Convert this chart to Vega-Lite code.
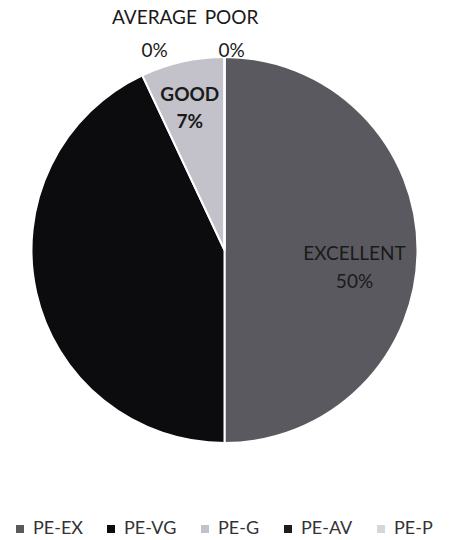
{
  "$schema": "https://vega.github.io/schema/vega-lite/v6.json",
  "width": 449,
  "height": 500,
  "padding": 0,
  "background": "white",
  "config": {
    "view": {"stroke": null},
    "font": "Lato",
    "text": {"font": "Lato", "lineBreak": "\n"}
  },
  "data": {
    "values": [
      {"cat": "PE-EX", "rank": 1, "value": 50, "label": "EXCELLENT\n50%"},
      {"cat": "PE-VG", "rank": 2, "value": 43, "label": "VERY GOOD\n43%"},
      {"cat": "PE-G", "rank": 3, "value": 7, "label": "GOOD\n7%"},
      {"cat": "PE-AV", "rank": 4, "value": 0, "label": "AVERAGE\n0%"},
      {"cat": "PE-P", "rank": 5, "value": 0, "label": "POOR\n0%"}
    ]
  },
  "encoding": {
    "theta": {"field": "value", "type": "quantitative", "stack": true},
    "order": {"field": "rank", "type": "quantitative"}
  },
  "layer": [
    {
      "mark": {"type": "arc", "radius": 193, "stroke": "white", "strokeWidth": 2},
      "encoding": {
        "color": {
          "field": "cat",
          "type": "nominal",
          "scale": {
            "domain": ["PE-EX", "PE-VG", "PE-G", "PE-AV", "PE-P"],
            "range": ["#5a5960", "#0c0c0e", "#c3c1ca", "#1c1c1e", "#d6d5d8"]
          },
          "legend": {
            "title": null,
            "orient": "bottom",
            "direction": "horizontal",
            "symbolType": "square",
            "symbolSize": 64,
            "symbolStrokeWidth": 0,
            "labelFontSize": 18,
            "labelColor": "#333333",
            "labelFont": "Lato",
            "columnPadding": 19,
            "offset": 9,
            "padding": 11
          }
        }
      }
    },
    {
      "mark": {"type": "text", "clip": true, "radius": 130, "dy": 4, "fontSize": 19, "lineHeight": 28, "color": "#1a1a1a"},
      "encoding": {
        "text": {"condition": {"test": "datum.cat === 'PE-EX'", "field": "label"}, "value": ""}
      }
    },
    {
      "mark": {"type": "text", "clip": true, "radius": 159, "fontSize": 19, "fontWeight": "bold", "lineHeight": 27, "color": "#1a1a1a"},
      "encoding": {
        "text": {"condition": {"test": "datum.cat === 'PE-G'", "field": "label"}, "value": ""}
      }
    },
    {
      "mark": {"type": "text", "clip": true, "radius": 232, "dx": -70, "fontSize": 19, "lineHeight": 33, "color": "#1a1a1a"},
      "encoding": {
        "text": {"condition": {"test": "datum.cat === 'PE-AV'", "field": "label"}, "value": ""}
      }
    },
    {
      "mark": {"type": "text", "clip": true, "radius": 232, "dx": 7, "fontSize": 19, "lineHeight": 33, "color": "#1a1a1a"},
      "encoding": {
        "text": {"condition": {"test": "datum.cat === 'PE-P'", "field": "label"}, "value": ""}
      }
    }
  ]
}
